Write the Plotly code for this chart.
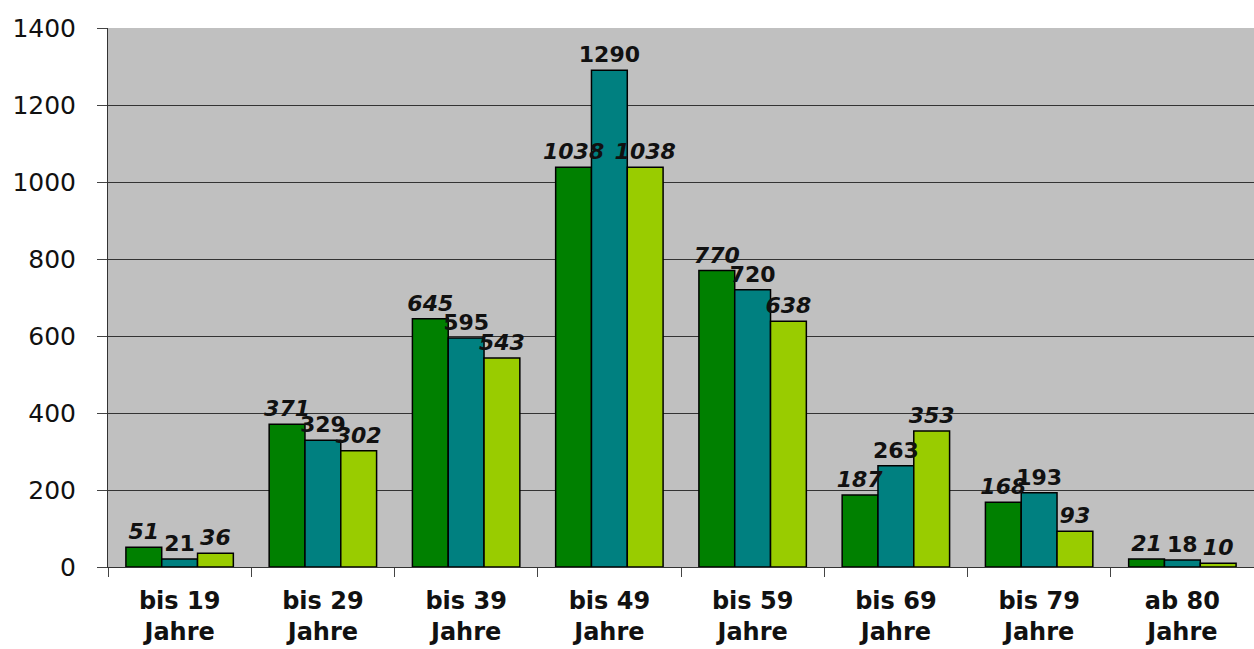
import plotly.graph_objects as go

categories = ["bis 19<br>Jahre", "bis 29<br>Jahre", "bis 39<br>Jahre", "bis 49<br>Jahre",
              "bis 59<br>Jahre", "bis 69<br>Jahre", "bis 79<br>Jahre", "ab 80<br>Jahre"]
series_a = [51, 371, 645, 1038, 770, 187, 168, 21]
series_b = [21, 329, 595, 1290, 720, 263, 193, 18]
series_c = [36, 302, 543, 1038, 638, 353, 93, 10]
y_ticks = [0, 200, 400, 600, 800, 1000, 1200, 1400]

colors = ["#008000", "#008080", "#99CC00"]
italic = ["<i>{}</i>", "{}", "<i>{}</i>"]
groups = ["a", "b", "c"]
FONT = "DejaVu Sans, Arial"
all_series = [series_a, series_b, series_c]

fig = go.Figure()
# bars
for vals, col, g in zip(all_series, colors, groups):
    fig.add_trace(go.Bar(
        x=categories, y=vals, offsetgroup=g,
        marker=dict(color=col, line=dict(color="#000000", width=1.5)),
        showlegend=False, hoverinfo="skip",
    ))
# labels drawn on top of all bars
for vals, fmt, g in zip(all_series, italic, groups):
    fig.add_trace(go.Bar(
        x=categories, y=vals, offsetgroup=g,
        marker=dict(color="rgba(0,0,0,0)", line=dict(width=0)),
        text=[fmt.format(f"<b>{v}</b>") for v in vals],
        textposition="outside", cliponaxis=False, constraintext="none",
        textfont=dict(family=FONT, size=22, color="#111111"),
        showlegend=False,
    ))

fig.update_layout(
    width=1254, height=649,
    margin=dict(l=108, r=0, t=28, b=82),
    paper_bgcolor="#ffffff", plot_bgcolor="#C0C0C0",
    barmode="group", bargap=0.25, bargroupgap=0,
    font=dict(family=FONT, color="#111111"),
    uniformtext=dict(mode=False),
)
fig.update_xaxes(
    showline=True, linecolor="#333333", linewidth=1,
    ticks="outside", tickson="boundaries", ticklen=9, tickcolor="#444444",
    tickfont=dict(size=24, family=FONT, color="#111111"),
    tickprefix="<b>", ticksuffix="</b>",
    ticklabelstandoff=12,
    showgrid=False,
)
fig.update_yaxes(
    range=[0, 1400], tickvals=y_ticks,
    showline=True, linecolor="#333333", linewidth=1,
    ticks="outside", ticklen=10, tickcolor="#444444",
    tickfont=dict(size=25, family=FONT, color="#111111"),
    ticklabelstandoff=16,
    showgrid=True, gridcolor="#333333", gridwidth=1,
    zeroline=False,
)
fig.write_html("out.html")
